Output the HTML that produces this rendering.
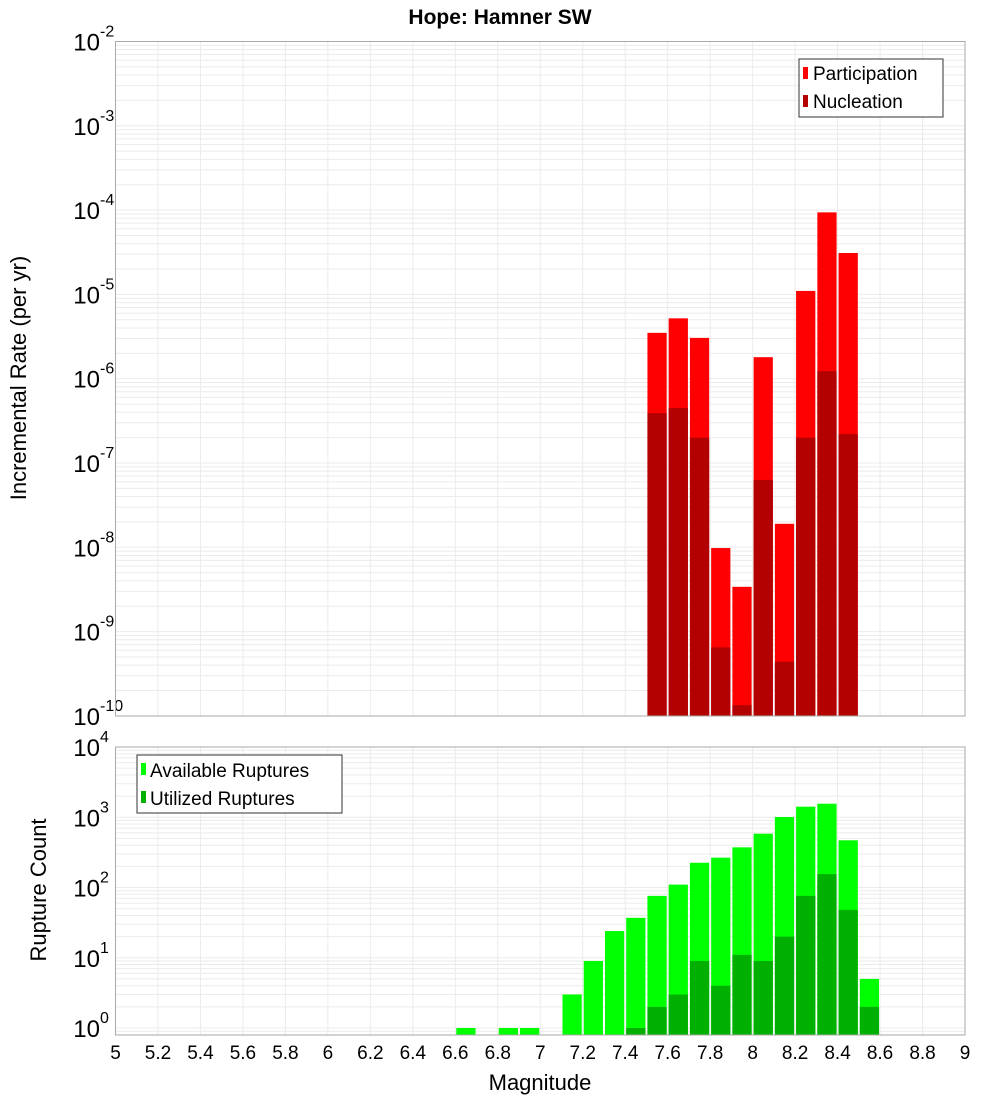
<!DOCTYPE html>
<html><head><meta charset="utf-8"><style>
body{margin:0;background:#fff;}
svg{display:block;font-family:"Liberation Sans","DejaVu Sans",sans-serif;}
</style></head><body>
<svg id="chart" width="1000" height="1100" xmlns="http://www.w3.org/2000/svg">
<text x="500" y="24" text-anchor="middle" font-size="21" font-weight="bold">Hope: Hamner SW</text>
<g id="top"></g>
<g id="bot"></g>
<text transform="translate(26,378) rotate(-90)" text-anchor="middle" font-size="22">Incremental Rate (per yr)</text>
<text transform="translate(46,890) rotate(-90)" text-anchor="middle" font-size="22">Rupture Count</text>
<text x="540" y="1090" text-anchor="middle" font-size="22">Magnitude</text>
<g>
<rect x="799" y="59" width="144" height="58" fill="#fff" stroke="#333" stroke-width="1"/>
<rect x="803" y="67" width="5" height="12" fill="#ff0000"/>
<text x="813" y="80" font-size="19">Participation</text>
<rect x="803" y="95" width="5" height="12" fill="#b30000"/>
<text x="813" y="108" font-size="19">Nucleation</text>
</g>
<g>
<rect x="137" y="755" width="205" height="58" fill="#fff" stroke="#333" stroke-width="1"/>
<rect x="141" y="763" width="5" height="12" fill="#00ff00"/>
<text x="150" y="777" font-size="19">Available Ruptures</text>
<rect x="141" y="791" width="5" height="12" fill="#00b000"/>
<text x="150" y="805" font-size="19">Utilized Ruptures</text>
</g>
</svg>
<script>
const rateBins = [7.5,7.6,7.7,7.8,7.9,8.0,8.1,8.2,8.3,8.4];
const participation = [3.5e-6,5.2e-6,3.05e-6,9.8e-9,3.4e-9,1.8e-6,1.9e-8,1.1e-5,9.4e-5,3.1e-5];
const nucleation = [3.9e-7,4.5e-7,2.0e-7,6.5e-10,1.34e-10,6.3e-8,4.4e-10,2.0e-7,1.23e-6,2.2e-7];
const countBins = [6.6,6.8,6.9,7.1,7.2,7.3,7.4,7.5,7.6,7.7,7.8,7.9,8.0,8.1,8.2,8.3,8.4,8.5];
const available = [1,1,1,3,9,24,37,76,110,225,266,373,583,1008,1414,1560,470,5];
const utilized = [0,0,0,0,0,0,1,2,3,9,4,11,9,20,76,155,48,2];
const xTicks = ["5","5.2","5.4","5.6","5.8","6","6.2","6.4","6.6","6.8","7","7.2","7.4","7.6","7.8","8","8.2","8.4","8.6","8.8","9"];
const rateExps = [-2,-3,-4,-5,-6,-7,-8,-9,-10];
const countExps = [4,3,2,1,0];

const NS="http://www.w3.org/2000/svg";
const X0=115.5,X1=965;
const xs=m=>X0+(m-5)*(X1-X0)/4;
const yTop=v=>41.5+(-2-Math.log10(v))*84.3;
const yBot=v=>1028-Math.log10(v)*70.25;
function mk(parent,tag,attrs){const e=document.createElementNS(NS,tag);for(const k in attrs)e.setAttribute(k,attrs[k]);parent.appendChild(e);return e;}

function frame(g,top,bot,yf,exps,minExp,maxExp){
  mk(g,'rect',{x:X0,y:top,width:X1-X0,height:bot-top,fill:'#fff'});
  for(let e=minExp;e<maxExp;e++)for(let k=1;k<10;k++){const y=yf(k*Math.pow(10,e));if(y<top||y>bot)continue;
    const l=mk(g,'line',{x1:X0,x2:X1,y1:y,y2:y,stroke:'#ebebeb','stroke-width':1});
    
    }
  xTicks.forEach(t=>{const x=xs(parseFloat(t));const l=mk(g,'line',{x1:x,x2:x,y1:top,y2:bot,stroke:'#ebebeb','stroke-width':1});
    
    });
  exps.forEach(e=>{const y=yf(Math.pow(10,e));
    const t=mk(g,'text',{x:100,y:y+9,'text-anchor':'end','font-size':24});t.textContent='10';
    
    
    const s=mk(g,'text',{x:100,y:y-5,'font-size':16});s.textContent=String(e);
    
    });
}
function outline(g,top,bot){mk(g,'rect',{x:X0,y:top,width:X1-X0,height:bot-top,fill:'none',stroke:'#aaa','stroke-width':1});}
function bars(g,bins,vals,yf,bot,color,name){
  bins.forEach((m,i)=>{if(!(vals[i]>0))return;const y=yf(vals[i]);const x=xs(m)+1;const w=xs(m+0.1)-xs(m)-2;
    const r=mk(g,'rect',{x:x,y:y,width:w,height:bot-y,fill:color});
    
    });
}
const gt=document.getElementById('top');
frame(gt,41.5,716,yTop,rateExps,-10,-2);
bars(gt,rateBins,participation,yTop,716,'#ff0000','participation');
bars(gt,rateBins,nucleation,yTop,716,'#b30000','nucleation');
outline(gt,41.5,716);
const gb=document.getElementById('bot');
frame(gb,747,1035,yBot,countExps,-1,4);
bars(gb,countBins,available,yBot,1035,'#00ff00','available');
bars(gb,countBins,utilized,yBot,1035,'#00b000','utilized');
outline(gb,747,1035);
xTicks.forEach(t=>{const e=mk(gb,'text',{x:xs(parseFloat(t)),y:1059,'text-anchor':'middle','font-size':19});e.textContent=t;
  
  });
</script>
</body></html>
